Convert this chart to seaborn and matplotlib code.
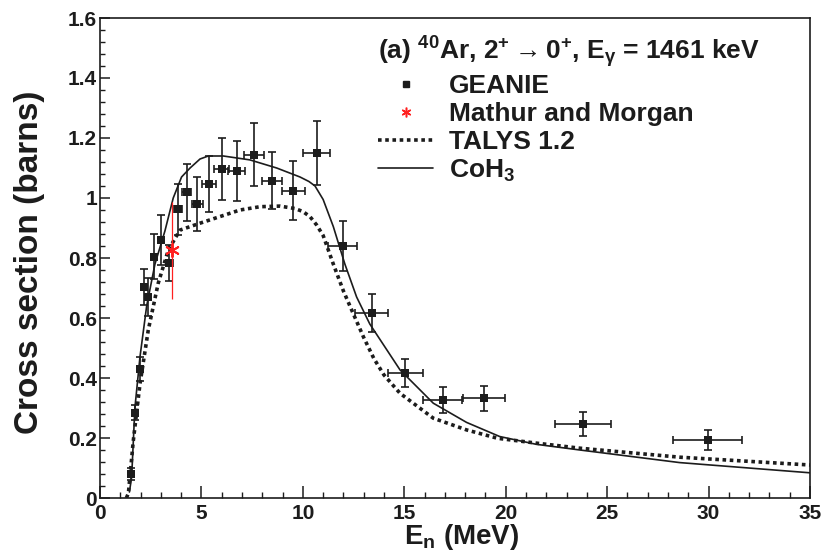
import matplotlib
matplotlib.use("Agg")
import matplotlib.pyplot as plt
import matplotlib.font_manager as fm
import seaborn as sns
import pandas as pd
from matplotlib.lines import Line2D
from matplotlib.ticker import MultipleLocator, FuncFormatter

# ---------------- data ----------------
geanie_e = [1.55, 1.72, 1.97, 2.15, 2.38, 2.68, 3.02, 3.42, 3.86, 4.27, 4.80, 5.36, 6.01,
            6.73, 7.58, 8.48, 9.53, 10.68, 11.96, 13.39, 15.05, 16.89, 18.94, 23.79, 29.95]
geanie_xs = [0.08, 0.285, 0.43, 0.705, 0.67, 0.805, 0.86, 0.785, 0.962, 1.02, 0.98, 1.047, 1.096,
             1.09, 1.145, 1.058, 1.025, 1.149, 0.84, 0.616, 0.418, 0.327, 0.332, 0.247, 0.193]
geanie_dxs = [0.02, 0.025, 0.04, 0.06, 0.062, 0.076, 0.082, 0.06, 0.085, 0.095, 0.089, 0.094, 0.104,
              0.099, 0.105, 0.096, 0.098, 0.107, 0.083, 0.063, 0.047, 0.042, 0.042, 0.039, 0.033]
geanie_de = [0.05, 0.06, 0.08, 0.10, 0.10, 0.12, 0.15, 0.17, 0.20, 0.22, 0.26, 0.35, 0.37,
             0.41, 0.49, 0.49, 0.57, 0.67, 0.70, 0.80, 0.86, 0.97, 1.03, 1.38, 1.72]

mm_e = [3.53]
mm_xs = [0.827]
mm_dlo = [0.165]
mm_dhi = [0.161]

talys_e = [1.30, 1.40, 1.64, 1.97, 2.38, 2.87, 3.37, 3.94, 4.93, 5.91, 6.90, 7.89, 8.87, 9.60,
           10.00, 10.35, 10.68, 11.00, 11.50, 12.00, 12.32, 13.00, 13.50, 14.00, 14.79, 16.43,
           18.07, 19.60, 21.50, 23.66, 28.58, 35.00]
talys_xs = [0.0, 0.016, 0.19, 0.38, 0.56, 0.716, 0.827, 0.893, 0.916, 0.938, 0.96, 0.971, 0.973, 0.965,
            0.955, 0.938, 0.91, 0.875, 0.78, 0.69, 0.64, 0.535, 0.465, 0.41, 0.349, 0.266,
            0.227, 0.199, 0.183, 0.166, 0.136, 0.11]

coh_e = [1.45, 1.56, 1.72, 1.97, 2.30, 2.71, 3.20, 3.61, 4.02, 4.44, 4.93, 5.34, 6.08, 7.39,
         8.71, 9.86, 10.30, 10.60, 11.00, 11.50, 12.07, 12.65, 13.30, 14.79, 16.43, 18.07,
         19.70, 21.50, 23.66, 28.58, 35.00]
coh_xs = [0.02, 0.07, 0.30, 0.47, 0.64, 0.78, 0.89, 1.00, 1.07, 1.10, 1.13, 1.14, 1.14, 1.127,
          1.10, 1.07, 1.055, 1.04, 0.995, 0.905, 0.78, 0.67, 0.58, 0.427, 0.316, 0.252,
          0.205, 0.179, 0.16, 0.118, 0.084]

legend_title = r"(a) $^{40}$Ar, 2$^{+}$$\rightarrow$0$^{+}$, E$_{\gamma}$ = 1461 keV"
series_labels = ["GEANIE", "Mathur and Morgan", "TALYS 1.2", r"CoH$_3$"]
xticks = [0, 5, 10, 15, 20, 25, 30, 35]

# ---------------- style ----------------
sns.set_theme(style="ticks")
plt.rcParams["font.family"] = ["Liberation Sans", "DejaVu Sans"]
plt.rcParams["font.weight"] = "bold"
plt.rcParams["mathtext.fontset"] = "custom"
plt.rcParams["mathtext.rm"] = "Liberation Sans:bold"
plt.rcParams["mathtext.bf"] = "Liberation Sans:bold"
plt.rcParams["mathtext.it"] = "Liberation Sans:bold"
plt.rcParams["mathtext.sf"] = "Liberation Sans:bold"
plt.rcParams["mathtext.default"] = "rm"

# condensed face for the axis titles (falls back to regular width if missing)
try:
    fm.findfont(fm.FontProperties(family="Liberation Sans Narrow", weight="bold"),
                fallback_to_default=False)
    have_narrow = True
except Exception:
    have_narrow = False
label_family = ["Liberation Sans Narrow", "Liberation Sans"] if have_narrow else ["Liberation Sans"]
ylab_size = 29 if have_narrow else 24
xlab_size = 25 if have_narrow else 20

ink = "#1c1c1c"
red = "#ff2020"
fig = plt.figure(figsize=(8.27, 5.56), dpi=100)
ax = fig.add_axes([100 / 827, 58 / 556, 710 / 827, 480 / 556])

talys_df = pd.DataFrame({"E": talys_e, "xs": talys_xs})
coh_df = pd.DataFrame({"E": coh_e, "xs": coh_xs})
sns.lineplot(data=talys_df, x="E", y="xs", ax=ax, color=ink, lw=2.6, sort=False,
             linestyle=(0, (1.0, 1.0)), dash_capstyle="butt", zorder=2)
sns.lineplot(data=coh_df, x="E", y="xs", ax=ax, color=ink, lw=1.2, sort=False, zorder=2)

ax.errorbar(geanie_e, geanie_xs, yerr=geanie_dxs, xerr=geanie_de, fmt="none",
            ecolor=ink, elinewidth=1.2, capsize=3, capthick=1.2, zorder=3)
sns.scatterplot(x=geanie_e, y=geanie_xs, ax=ax, marker="s", s=34, color=ink,
                edgecolor=ink, linewidth=0, zorder=4)

ax.errorbar(mm_e, mm_xs, yerr=[mm_dlo, mm_dhi], fmt="none", ecolor=red,
            elinewidth=0.9, capsize=0, zorder=5)
ax.scatter(mm_e, mm_xs, marker=(6, 2, 0), s=90, color=red, linewidths=1.4, zorder=6)

ax.set_xlim(0, 35)
ax.set_ylim(0, 1.6)
ax.set_xticks(xticks)
ax.xaxis.set_minor_locator(MultipleLocator(1))
ax.yaxis.set_major_locator(MultipleLocator(0.2))
ax.yaxis.set_minor_locator(MultipleLocator(0.04))
ax.yaxis.set_major_formatter(FuncFormatter(lambda v, p: f"{v:g}"))
ax.xaxis.set_major_formatter(FuncFormatter(lambda v, p: f"{v:g}"))

ax.tick_params(which="both", direction="in", top=False, right=False, color=ink,
               labelsize=15, labelcolor=ink)
ax.tick_params(axis="x", which="major", length=9, width=1.1, pad=4)
ax.tick_params(axis="x", which="minor", length=4.5, width=1.0)
ax.tick_params(axis="y", which="major", length=7.5, width=1.1, pad=2)
ax.tick_params(axis="y", which="minor", length=3.8, width=1.0)
for sp in ax.spines.values():
    sp.set_visible(True)
    sp.set_linewidth(1.2)
    sp.set_color(ink)

ax.set_xlabel(r"E$_{\mathregular{n}}$ (MeV)", fontsize=xlab_size, fontweight="bold",
              color=ink, family=label_family)
ax.set_ylabel("Cross section (barns)", fontsize=ylab_size, fontweight="bold",
              color=ink, family=label_family)
ax.xaxis.set_label_coords(0.51, -0.05)
ax.yaxis.set_label_coords(-0.078, 0.49)

handles = [
    Line2D([], [], ls="none", marker="s", ms=5, color=ink),
    Line2D([], [], ls="none", marker=(6, 2, 0), ms=7, mew=1.1, color=red),
    Line2D([], [], color=ink, lw=2.6, ls=(0, (1.0, 1.0)), dash_capstyle="butt"),
    Line2D([], [], color=ink, lw=1.2),
]
leg = ax.legend(handles, series_labels, title=legend_title, loc="upper left",
                bbox_to_anchor=(378 / 827, 1 - 34 / 556), bbox_transform=fig.transFigure,
                frameon=False, borderpad=0, borderaxespad=0, prop={"size": 19, "weight": "bold"},
                title_fontproperties={"size": 19, "weight": "bold"}, labelspacing=0.15,
                handlelength=2.1, handletextpad=0.6)
leg._legend_box.align = "left"
for t in leg.get_texts():
    t.set_color(ink)
leg.get_title().set_color(ink)

fig.savefig("out.png", dpi=100)
